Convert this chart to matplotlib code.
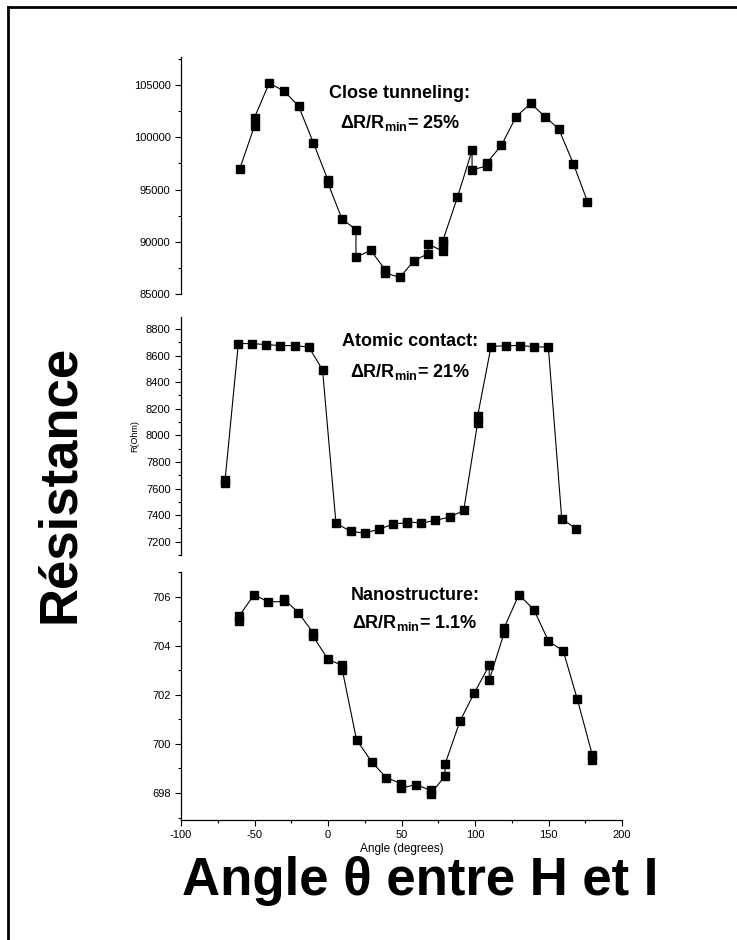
import matplotlib
matplotlib.use("Agg")
import matplotlib.pyplot as plt
from matplotlib import font_manager
from matplotlib.lines import Line2D
from matplotlib.ticker import MultipleLocator

# Pick a narrow bold face for the annotations if it exists
names = {f.name for f in font_manager.fontManager.ttflist}
narrow = "Liberation Sans Narrow" if "Liberation Sans Narrow" in names else "Liberation Sans"
plt.rcParams["font.family"] = ["Liberation Sans", "DejaVu Sans"]
plt.rcParams["axes.unicode_minus"] = False

# Close tunneling
close_angle = [-60, -50, -50, -40, -30, -20, -10, 0, 0, 9.5, 19, 19, 29, 39, 39, 49,
               58.5, 68, 68, 78, 78, 78, 88, 98, 98, 108, 108, 118, 128, 138, 147.5,
               157, 167, 176.5]
close_r = [97000, 101100, 101900, 105200, 104450, 103000, 99500, 95900, 95600, 92200,
           91150, 88500, 89200, 87300, 87000, 86600, 88200, 88850, 89800, 89100, 89800,
           90050, 94250, 98750, 96900, 97250, 97550, 99250, 102000, 103250, 102000,
           100800, 97450, 93850]

# Atomic contact
atomic_angle = [-70, -70, -61, -51.5, -42, -32.4, -22.7, -13, -3.7, 5.4, 15.4, 25.2, 35,
                44.4, 54, 54, 63.3, 72.8, 82.8, 92.3, 101.8, 101.8, 110.9, 120.9, 130.6,
                140.3, 149.9, 159, 168.7]
atomic_r = [7640, 7665, 8690, 8690, 8682, 8675, 8675, 8663, 8492, 7340, 7277, 7265, 7295,
            7333, 7343, 7350, 7340, 7360, 7385, 7435, 8096, 8146, 8667, 8675, 8675, 8667,
            8663, 7373, 7298]

# Nanostructure
nano_angle = [-60.5, -60.5, -50.3, -40.6, -30.1, -30.1, -20.2, -10.2, -10.2, 0, 9.7, 9.7,
              19.4, 29.6, 39.5, 49.7, 49.7, 59.7, 69.9, 69.9, 79.6, 79.6, 89.8, 99.5,
              109.7, 109.7, 119.7, 119.7, 129.9, 140.1, 149.9, 160.1, 169.6, 179.8, 179.8]
nano_r = [705.0, 705.2, 706.08, 705.78, 705.8, 705.9, 705.35, 704.53, 704.39, 703.44,
          703.2, 703.02, 700.17, 699.28, 698.63, 698.38, 698.2, 698.34, 698.11, 697.97,
          698.69, 699.17, 700.93, 702.07, 703.2, 702.6, 704.5, 704.71, 706.08, 705.46,
          704.2, 703.77, 701.82, 699.55, 699.35]

W, H = 737, 940
fig = plt.figure(figsize=(W / 100, H / 100), dpi=100)


def px(x, y):
    return x / W, 1 - y / H


def panel(top, bottom, xs, ys, ylim, major, minor, show_x=False):
    ax = fig.add_axes([181 / W, 1 - bottom / H, (622 - 181) / W, (bottom - top) / H])
    ax.plot(xs, ys, color="black", lw=0.8, marker="s", ms=5.5, mec="black", mfc="black")
    ax.set_xlim(-100, 200)
    ax.set_ylim(*ylim)
    for s in ["top", "right"]:
        ax.spines[s].set_visible(False)
    ax.spines["left"].set_linewidth(0.9)
    ax.yaxis.set_major_locator(MultipleLocator(major))
    ax.yaxis.set_minor_locator(MultipleLocator(minor))
    ax.tick_params(axis="y", which="major", length=4, width=0.8, labelsize=8, direction="out")
    ax.tick_params(axis="y", which="minor", length=2.5, width=0.8, direction="out")
    if show_x:
        ax.spines["bottom"].set_linewidth(0.9)
        ax.xaxis.set_major_locator(MultipleLocator(50))
        ax.xaxis.set_minor_locator(MultipleLocator(25))
        ax.tick_params(axis="x", which="major", length=4, width=0.8, labelsize=8)
        ax.tick_params(axis="x", which="minor", length=2.5, width=0.8)
        ax.set_xlabel("Angle (degrees)", fontsize=8.5, labelpad=2)
    else:
        ax.spines["bottom"].set_visible(False)
        ax.set_xticks([])
    ax.patch.set_alpha(0)
    return ax


panel(57, 294, close_angle, close_r, (85000, 107700), 5000, 2500)
ax2 = panel(317, 555, atomic_angle, atomic_r, (7100, 8890), 200, 100)
ax2.set_ylabel("R(Ohm)", fontsize=6.5, labelpad=5)
panel(572, 820, nano_angle, nano_r, (696.9, 707.0), 2, 1, show_x=True)

# Annotations
notes = [("Close tunneling:", "25%", 400, 93, 123),
         ("Atomic contact:", "21%", 410, 342, 372),
         ("Nanostructure:", "1.1%", 415, 595, 623)]
for title, pct, x, y1, y2 in notes:
    fig.text(*px(x, y1), title, ha="center", va="center", fontsize=13,
             fontweight="bold", family=narrow)
    fig.text(*px(x, y2), "ΔR/R$_\\mathregular{min}$= " + pct, ha="center", va="center",
             fontsize=13, fontweight="bold", family=narrow)

fig.text(*px(60, 484), "Résistance", rotation=90, ha="center", va="center",
         fontsize=38, fontweight="bold")
fig.text(*px(420, 895), "Angle θ entre H et I", ha="center", va="baseline",
         fontsize=38, fontweight="bold", family=narrow)

# Frame lines on the top and left
fig.add_artist(Line2D([8 / W, 1], [1 - 7 / H, 1 - 7 / H], color="black", lw=2))
fig.add_artist(Line2D([8 / W, 8 / W], [0, 1 - 7 / H], color="black", lw=2))

fig.savefig("out.png", dpi=100)
